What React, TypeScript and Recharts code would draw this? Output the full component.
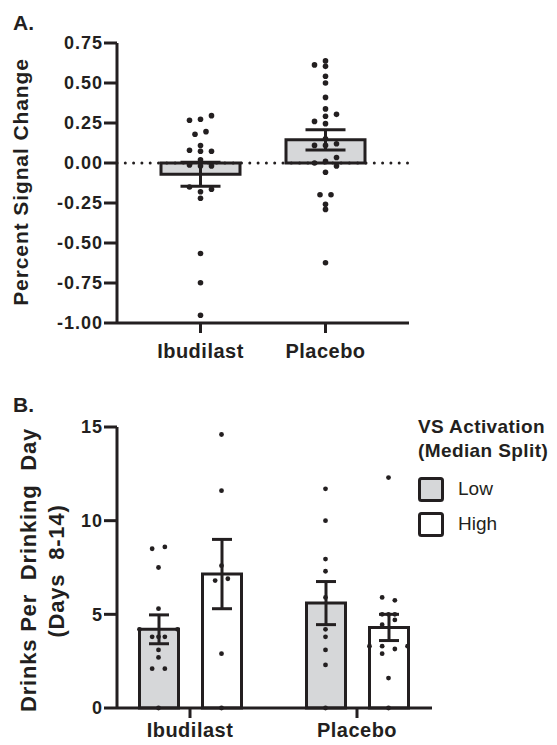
import React from "react";
import {
  ComposedChart,
  Bar,
  ErrorBar,
  Scatter,
  XAxis,
  YAxis,
  ReferenceLine,
  Legend,
} from "recharts";

const INK = "#231f20";
const GREY = "#d6d7d9";
const FONT = "'Liberation Sans', Arial, Helvetica, sans-serif";

// ---- Panel A: percent signal change ----
const groupsA = ["Ibudilast", "Placebo"];
const meanA = [-0.07, 0.145];
const semA = [0.075, 0.063];
const ticksA = [-1, -0.75, -0.5, -0.25, 0, 0.25, 0.5, 0.75];

const ibudilastA = [
  0.267, 0.273, 0.296, 0.18, 0.196, 0.109, 0.08, 0.073, 0.073, 0.02,
  -0.012, -0.019, -0.019, -0.15, -0.164, -0.18, -0.22, -0.566, -0.748, -0.952,
];
const ibudilastSlotsA = [-1, 0, 1, -0.5, 0.5, 0, -1, 0, 1, 0, -1, 0, 1, -1, 1, 0, 0, 0, 0, 0];
const placeboA = [
  0.613, 0.638, 0.604, 0.542, 0.5, 0.41, 0.338, 0.304, 0.292, 0.26, 0.246, 0.152,
  0.11, 0.11, 0.12, 0.0, 0.01, 0.034, -0.019, -0.058, -0.198, -0.198, -0.258, -0.29, -0.623,
];
const placeboSlotsA = [-1, 0, 0, 0, 0, 0, 0, 1, 0, -1, 0, 0, -1, 0, 1, -1, 0, 1, 1, 0, -0.5, 0.5, 0, 0, 0];

// ---- Panel B: drinks per drinking day ----
const groupsB = ["Ibudilast", "Placebo"];
const lowMeanB = [4.2, 5.6];
const lowSemB = [0.77, 1.15];
const highMeanB = [7.15, 4.3];
const highSemB = [1.85, 0.7];
const ticksB = [0, 5, 10, 15];
const legendLabels = ["Low", "High"];
const legendFills = [GREY, "#ffffff"];

const ibuLowB = [8.5, 8.6, 7.5, 5.3, 4.2, 4.2, 3.8, 3.8, 3.8, 3.1, 2.7, 2.1, 2.1, 0];
const ibuLowSlots = [-1, 1, 0, 0, -3, 3, -1, 0, 1, 0, 0, -1, 1, 0];
const ibuHighB = [14.6, 11.6, 7.6, 6.8, 6.9, 2.9, 0];
const ibuHighSlots = [0, 0, 0, -1, 1, 0, 0];
const plaLowB = [11.7, 10.0, 7.95, 7.3, 5.9, 4.2, 3.8, 3.1, 2.3, 0];
const plaLowSlots = [0, 0, 0, 0, 0, 0, 0, 0, 0, 0];
const plaHighB = [12.3, 5.9, 5.75, 5.0, 5.0, 5.0, 4.7, 4.45, 3.3, 3.3, 3.3, 3.15, 2.9, 1.6, 0];
const plaHighSlots = [0, -1, 1, -1, 0, 1, 1, -1, -3, 3, -1, 1, -1, 0, 0];

// layout helpers
const BAR_B = 39;
const GAP_B = 24;
const BAND_B = 167;

const jitter = (vals: number[], slots: number[], center: number, step: number) =>
  vals.map((v, i) => ({ x: center + slots[i] * step, y: v }));

const dataA = groupsA.map((g, i) => ({ group: g, mean: meanA[i], sem: semA[i] }));
const pointsA = [
  ...jitter(ibudilastA, ibudilastSlotsA, 0.5, 0.088),
  ...jitter(placeboA, placeboSlotsA, 1.5, 0.088),
];

const dataB = groupsB.map((g, i) => ({
  group: g,
  low: lowMeanB[i],
  lowSem: lowSemB[i],
  high: highMeanB[i],
  highSem: highSemB[i],
}));
const shiftB = (BAR_B + GAP_B) / 2 / BAND_B;
const stepB = 0.038;
const pointsB = [
  ...jitter(ibuLowB, ibuLowSlots, 0.5 - shiftB, stepB),
  ...jitter(ibuHighB, ibuHighSlots, 0.5 + shiftB, stepB),
  ...jitter(plaLowB, plaLowSlots, 1.5 - shiftB, stepB),
  ...jitter(plaHighB, plaHighSlots, 1.5 + shiftB, stepB),
];

const dot = (r: number) => (p: any) => <circle cx={p.cx} cy={p.cy} r={r} fill={INK} />;

const yTick = { fontSize: 18, fontWeight: 700, fill: INK, fontFamily: FONT, letterSpacing: 1 };
const xTick = { fontSize: 20, fontWeight: 700, fill: INK, fontFamily: FONT, letterSpacing: 0.5 };
const axisStyle = { stroke: INK, strokeWidth: 3 };

const titleA = () => (
  <text
    x={28}
    y={182}
    transform="rotate(-90 28 182)"
    textAnchor="middle"
    fontSize={21}
    fontWeight={700}
    fill={INK}
    fontFamily={FONT}
    letterSpacing={0.9}
  >
    Percent Signal Change
  </text>
);

const titleB = () => (
  <g>
    <text
      x={36}
      y={200}
      transform="rotate(-90 36 200)"
      textAnchor="middle"
      fontSize={22}
      fontWeight={700}
      fill={INK}
      fontFamily={FONT}
      letterSpacing={0.8}
    >
      {"Drinks Per\u00A0 Drinking\u00A0 Day"}
    </text>
    <text
      x={64}
      y={201}
      transform="rotate(-90 64 201)"
      textAnchor="middle"
      fontSize={22}
      fontWeight={700}
      fill={INK}
      fontFamily={FONT}
      letterSpacing={0.8}
    >
      {"(Days\u00A0 8-14)"}
    </text>
  </g>
);

const legendB = () => (
  <svg width={140} height={125} style={{ overflow: "visible" }}>
    <g fontFamily={FONT} fill={INK}>
      <text x={0} y={18} fontSize={19} fontWeight={700} letterSpacing={0.4}>
        VS Activation
      </text>
      <text x={0} y={42} fontSize={19} fontWeight={700} letterSpacing={0.4}>
        (Median Split)
      </text>
      {legendLabels.map((label, i) => (
        <g key={label}>
          <rect
            x={1.5}
            y={63.5 + i * 35}
            width={23}
            height={22}
            rx={2}
            fill={legendFills[i]}
            stroke={INK}
            strokeWidth={3}
          />
          <text x={40} y={80 + i * 35} fontSize={19}>
            {label}
          </text>
        </g>
      ))}
    </g>
  </svg>
);

const panelLabel: React.CSSProperties = {
  position: "absolute",
  left: 13,
  fontFamily: FONT,
  fontWeight: 700,
  fontSize: 21,
  lineHeight: "21px",
  color: INK,
};

export default function App() {
  return (
    <div style={{ position: "absolute", left: 0, top: 0, width: 557, height: 745, background: "#fff" }}>
      <div style={{ ...panelLabel, top: 12 }}>A.</div>
      <div style={{ ...panelLabel, top: 394 }}>B.</div>

      <div style={{ position: "absolute", left: 0, top: 0 }}>
        <ComposedChart width={557} height={370} data={dataA} margin={{ top: 43, right: 148, bottom: 7, left: 0 }}>
          <XAxis
            xAxisId="cat"
            dataKey="group"
            type="category"
            padding={{ left: 21, right: 21 }}
            height={40}
            axisLine={axisStyle}
            tickLine={axisStyle}
            tickSize={10}
            tickMargin={11}
            tick={xTick}
          />
          <XAxis xAxisId="num" dataKey="x" type="number" domain={[0, 2]} padding={{ left: 21, right: 21 }} hide />
          <YAxis
            domain={[-1, 0.75]}
            ticks={ticksA}
            interval={0}
            width={117}
            axisLine={axisStyle}
            tickLine={axisStyle}
            tickSize={13}
            tickMargin={1}
            tick={yTick}
            tickFormatter={(v: number) => v.toFixed(2)}
            label={{ content: titleA }}
          />
          <Bar
            xAxisId="cat"
            dataKey="mean"
            barSize={79}
            fill={GREY}
            stroke={INK}
            strokeWidth={3}
            isAnimationActive={false}
          >
            <ErrorBar dataKey="sem" width={20} stroke={INK} strokeWidth={3} direction="y" />
          </Bar>
          <ReferenceLine
            xAxisId="cat"
            y={0}
            stroke={INK}
            strokeWidth={3}
            strokeDasharray="0 8.3"
            strokeLinecap="round"
          />
          <Scatter xAxisId="num" data={pointsA} dataKey="y" shape={dot(2.8)} isAnimationActive={false} />
        </ComposedChart>
      </div>

      <div style={{ position: "absolute", left: 0, top: 370 }}>
        <ComposedChart
          width={557}
          height={375}
          data={dataB}
          barGap={GAP_B}
          margin={{ top: 57, right: 125, bottom: 2, left: 0 }}
        >
          <XAxis
            xAxisId="cat"
            dataKey="group"
            type="category"
            padding={{ left: -10.5, right: -8.5 }}
            height={35}
            axisLine={axisStyle}
            tickLine={axisStyle}
            tickSize={10}
            tickMargin={5}
            tick={xTick}
          />
          <XAxis xAxisId="num" dataKey="x" type="number" domain={[0, 2]} padding={{ left: -10.5, right: -8.5 }} hide />
          <YAxis
            domain={[0, 15]}
            ticks={ticksB}
            interval={0}
            width={117}
            axisLine={axisStyle}
            tickLine={axisStyle}
            tickSize={13}
            tickMargin={1}
            tick={yTick}
            label={{ content: titleB }}
          />
          <Bar
            xAxisId="cat"
            dataKey="low"
            barSize={BAR_B}
            fill={GREY}
            stroke={INK}
            strokeWidth={3}
            isAnimationActive={false}
          >
            <ErrorBar dataKey="lowSem" width={10} stroke={INK} strokeWidth={3} direction="y" />
          </Bar>
          <Bar
            xAxisId="cat"
            dataKey="high"
            barSize={BAR_B}
            fill="#ffffff"
            stroke={INK}
            strokeWidth={3}
            isAnimationActive={false}
          >
            <ErrorBar dataKey="highSem" width={10} stroke={INK} strokeWidth={3} direction="y" />
          </Bar>
          <Scatter xAxisId="num" data={pointsB} dataKey="y" shape={dot(2.4)} isAnimationActive={false} />
          <Legend
            layout="vertical"
            align="center"
            verticalAlign="middle"
            content={legendB}
            wrapperStyle={{ left: 418, top: 45, width: 140, height: 125 }}
          />
        </ComposedChart>
      </div>
    </div>
  );
}
